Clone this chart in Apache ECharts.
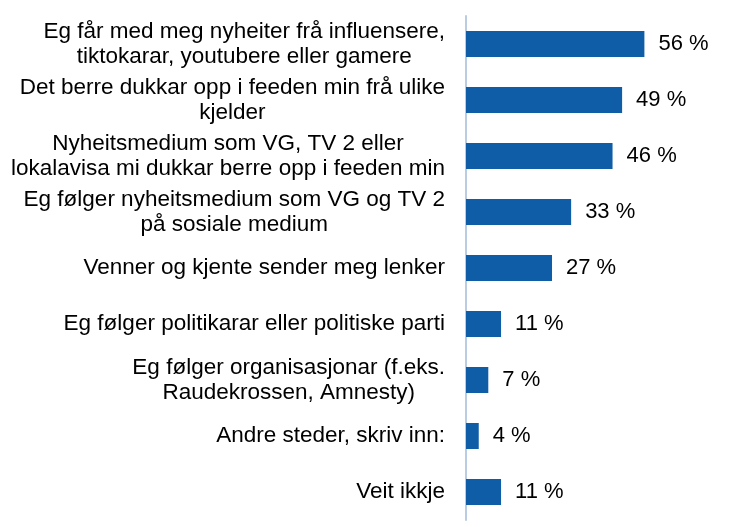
<!DOCTYPE html>
<html>
<head>
<meta charset="utf-8">
<script src="https://cdn.jsdelivr.net/npm/echarts@6/dist/echarts.min.js"></script>
<style>
html,body{margin:0;padding:0;background:#fff;}
#chart{width:741px;height:527px;}
</style>
</head>
<body>
<div id="chart"></div>
<script>
const categories = [
  "Eg får med meg nyheiter frå influensere,\ntiktokarar, youtubere eller gamere",
  "Det berre dukkar opp i feeden min frå ulike\nkjelder",
  "Nyheitsmedium som VG, TV 2 eller\nlokalavisa mi dukkar berre opp i feeden min",
  "Eg følger nyheitsmedium som VG og TV 2\npå sosiale medium",
  "Venner og kjente sender meg lenker",
  "Eg følger politikarar eller politiske parti",
  "Eg følger organisasjonar (f.eks.\nRaudekrossen, Amnesty)",
  "Andre steder, skriv inn:",
  "Veit ikkje"
];
const values = [56, 49, 46, 33, 27, 11, 7, 4, 11];

const FONT = 'Liberation Sans, Arial, sans-serif';
const chart = echarts.init(document.getElementById('chart'));
chart.setOption({
  animation: false,
  grid: { left: 466, right: 52, top: 16, bottom: 7, containLabel: false },
  xAxis: { type: 'value', min: 0, max: 70, show: false },
  yAxis: {
    type: 'category',
    data: categories,
    inverse: true,
    axisLine: { show: true, lineStyle: { color: '#B9CCE4', width: 2 } },
    axisTick: { show: false },
    axisLabel: {
      margin: 21,
      align: 'right',
      formatter: v => v.split('\n').map(s => '{c|' + s + '}').join('\n'),
      rich: {
        c: {
          align: 'center',
          color: '#000',
          fontFamily: FONT,
          fontSize: 22.5,
          lineHeight: 25
        }
      }
    }
  },
  series: [{
    type: 'bar',
    data: values,
    barWidth: 26,
    itemStyle: { color: '#0F5CA7' },
    label: {
      show: true,
      position: 'right',
      distance: 14,
      formatter: p => p.value + ' %',
      color: '#000',
      fontFamily: FONT,
      fontSize: 22
    }
  }]
});
</script>
</body>
</html>
